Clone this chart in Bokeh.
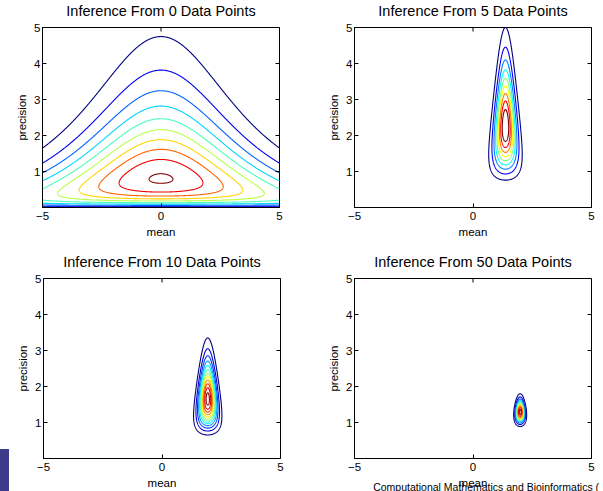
import numpy as np
from bokeh.plotting import figure
from bokeh.layouts import column, row
from bokeh.models import FixedTicker, Range1d, Title, Div, Spacer
from bokeh.embed import file_html
from bokeh.resources import INLINE

# ---------------- data ----------------
data_counts = [0, 5, 10, 50]
titles = ["Inference From 0 Data Points", "Inference From 5 Data Points",
          "Inference From 10 Data Points", "Inference From 50 Data Points"]
# Normal-Gamma posterior parameters per panel:
# p(mu, lam) ∝ lam^(a-1/2) * exp(-b*lam - kappa*lam*(mu-m)^2/2)
post_mean = [0.0, 1.37, 1.93, 1.99]
post_kappa = [0.1, 5.1, 10.1, 50.1]
post_shape = [1.23, 5.93, 8.34, 38.3]
post_rate = [0.915, 2.413, 4.752, 29.3]
# contour levels as fractions of each panel's peak density
level_fracs = [
    [0.099, 0.198, 0.297, 0.396, 0.495, 0.594, 0.693, 0.792, 0.891, 0.99],
    [0.1, 0.2, 0.3, 0.4, 0.5, 0.6, 0.7, 0.8, 0.9],
    [0.08, 0.16, 0.24, 0.32, 0.40, 0.48, 0.56, 0.64, 0.72, 0.80, 0.88, 0.96],
    [0.095, 0.19, 0.285, 0.38, 0.475, 0.57, 0.665, 0.76, 0.855, 0.95],
]
x_ticks = [-5, 0, 5]
y_ticks = [1, 2, 3, 4, 5]
x_lim = (-5, 5)
y_lim = (0, 5)
x_label = "mean"
y_label = "precision"
footer_text = "Computational Mathematics and Bioinformatics ("

# ---------------- helpers ----------------
FONT = "Liberation Sans"


def jet(n):
    cols = []
    for i in range(n):
        t = i / (n - 1) if n > 1 else 0.0
        r = min(max(1.5 - abs(4 * t - 3), 0.0), 1.0)
        g = min(max(1.5 - abs(4 * t - 2), 0.0), 1.0)
        b = min(max(1.5 - abs(4 * t - 1), 0.0), 1.0)
        cols.append("#%02x%02x%02x" % (round(r * 255), round(g * 255), round(b * 255)))
    return cols


mu = np.linspace(x_lim[0], x_lim[1], 801)
lam = np.linspace(y_lim[0], y_lim[1], 801)
MU, LAM = np.meshgrid(mu, lam)


def density(m, k, a, b):
    c = a - 0.5
    with np.errstate(divide="ignore", invalid="ignore"):
        logp = c * np.log(LAM) - b * LAM - 0.5 * k * LAM * (MU - m) ** 2
    lstar = c / b
    logmax = c * np.log(lstar) - c
    z = np.exp(logp - logmax)
    return np.nan_to_num(z, nan=0.0)


# frame placement: (border_left, border_right, border_top, border_bottom)
borders = [(42, 21, 33, 38), (54, 12, 33, 38), (34, 20, 33, 33), (54, 12, 33, 33)]


def make_panel(i):
    bl, br, bt, bb = borders[i]
    p = figure(frame_width=237, frame_height=180,
               x_range=Range1d(*x_lim), y_range=Range1d(*y_lim),
               output_backend="svg", toolbar_location=None,
               min_border_left=bl, min_border_right=br,
               min_border_top=bt, min_border_bottom=bb,
               title=titles[i])
    p.background_fill_color = "white"
    p.border_fill_color = "white"
    p.outline_line_color = "black"
    p.outline_line_width = 1
    p.xgrid.visible = False
    p.ygrid.visible = False

    p.title.text_font = FONT
    p.title.text_font_size = "14.5px"
    p.title.text_font_style = "normal"
    p.title.text_color = "black"
    p.title.align = "center"
    p.title.vertical_align = "top"
    p.title.standoff = 14

    z = density(post_mean[i], post_kappa[i], post_shape[i], post_rate[i])
    levels = level_fracs[i]
    p.contour(mu, lam, z, levels, line_color=jet(len(levels)),
              fill_color=None, line_width=1.1)

    # inward tick marks on the right and top edges (box style)
    p.scatter(x=[x_lim[1]] * len(y_ticks), y=y_ticks, marker="dash",
              size=8, line_color="black", line_width=1)
    p.scatter(x=x_ticks, y=[y_lim[1]] * len(x_ticks), marker="dash",
              angle=np.pi / 2, size=8, line_color="black", line_width=1)

    p.xaxis.ticker = FixedTicker(ticks=x_ticks)
    p.yaxis.ticker = FixedTicker(ticks=y_ticks)
    p.xaxis.major_label_overrides = {-5: "\u22125"}
    p.xaxis.axis_label = x_label
    p.yaxis.axis_label = y_label
    for ax in [p.xaxis[0], p.yaxis[0]]:
        ax.major_tick_in = 4
        ax.major_tick_out = 0
        ax.minor_tick_line_color = None
        ax.major_tick_line_color = "black"
        ax.axis_line_color = "black"
        ax.major_label_text_font = FONT
        ax.major_label_text_font_size = "11.5px"
        ax.major_label_text_color = "black"
        ax.axis_label_text_font = FONT
        ax.axis_label_text_font_size = "11.5px"
        ax.axis_label_text_font_style = "normal"
        ax.axis_label_text_color = "black"
    p.xaxis.major_label_standoff = 4
    p.xaxis.axis_label_standoff = 3
    p.yaxis.major_label_standoff = 2
    p.yaxis.axis_label_standoff = 3
    return p


panels = [make_panel(i) for i in range(4)]

# footer text of the slide, overlapping the last panel's x label
panels[3].add_layout(Title(text=footer_text, align="left", offset=18.7,
                           vertical_align="top", standoff=-22,
                           text_font=FONT, text_font_size="10.5px",
                           text_font_style="normal", text_color="black"),
                     "below")

# slide decoration: purple block at the lower-left corner
deco = column(Spacer(width=9, height=204, margin=0),
              Div(text="", width=9, height=42, margin=0,
                  styles={"background-color": "#3d3a8c"}),
              margin=0)

layout = column(row(panels[0], panels[1]), row(deco, panels[2], panels[3]),
                margin=(-6, 0, 0, 0))

open("out.html", "w").write(file_html(layout, INLINE))
